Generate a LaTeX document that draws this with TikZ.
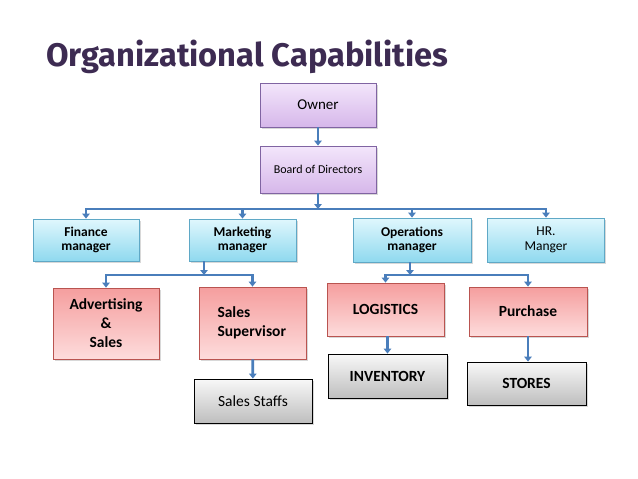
\documentclass[tikz,border=0pt]{standalone}
\usepackage{fontspec}
\setmainfont{Carlito}
\newfontfamily\titlefont{Fira Sans}
\usetikzlibrary{arrows.meta}
\usetikzlibrary{shadows}
\usepackage{xcolor}

\definecolor{titlecol}{HTML}{3D2B52}
\definecolor{arrowcol}{HTML}{4A7EBB}

\tikzset{
  box/.style={draw, line width=0.8pt, inner sep=2pt, align=center,
    drop shadow={shadow xshift=1.5pt, shadow yshift=-1.5pt, opacity=0.3}},
  purplebox/.style={box, draw={rgb,255:red,128;green,100;blue,162},
    top color={rgb,255:red,243;green,230;blue,251}, bottom color={rgb,255:red,214;green,183;blue,234}},
  bluebox/.style={box, draw={rgb,255:red,95;green,168;blue,198},
    top color={rgb,255:red,224;green,247;blue,253}, bottom color={rgb,255:red,143;green,217;blue,239}},
  pinkbox/.style={box, draw={rgb,255:red,185;green,84;blue,80},
    top color={rgb,255:red,245;green,158;blue,158}, bottom color={rgb,255:red,253;green,220;blue,220}},
  greybox/.style={box, draw=black,
    top color={rgb,255:red,248;green,248;blue,248}, bottom color={rgb,255:red,190;green,190;blue,190}},
  arr/.style={draw=arrowcol, line width=2.7pt, -{Triangle[length=5pt,width=7.5pt]}},
  mgr/.style={font=\fontsize{13.5}{14.7}\selectfont\bfseries},
  low/.style={font=\fontsize{15.5}{19}\selectfont\bfseries}
}

\begin{document}
\begin{tikzpicture}[x=1pt,y=-1pt]
\useasboundingbox[fill=white] (0,0) rectangle (638,479);

\node[anchor=base west, text=titlecol, inner sep=0] (title) at (46,66)
  {\resizebox{402pt}{!}{\titlefont\bfseries Organizational Capabilities}};

\node[purplebox, minimum width=116pt, minimum height=44pt, font=\fontsize{15}{17}\selectfont] (owner) at (318,105) {Owner};
\node[purplebox, minimum width=116pt, minimum height=47pt, font=\fontsize{12}{14}\selectfont] (board) at (318,169.5) {Board of Directors};

\node[bluebox, mgr, minimum width=106pt, minimum height=42pt] (finance) at (86,240) {Finance\\manager};
\node[bluebox, mgr, minimum width=107pt, minimum height=42pt] (marketing) at (242.5,240) {Marketing\\manager};
\node[bluebox, mgr, minimum width=118pt, minimum height=44pt] (operations) at (412,240) {Operations\\manager};
\node[bluebox, minimum width=117pt, minimum height=44pt, font=\fontsize{13.5}{14.7}\selectfont] (hr) at (546,240) {HR.\\Manger};

\node[pinkbox, low, minimum width=106pt, minimum height=71pt] (advert) at (106,323.5) {Advertising\\\&\\Sales};
\node[pinkbox, low, minimum width=107pt, minimum height=72pt, align=left, text width=70pt, inner xsep=18.5pt] (supervisor) at (252.5,323) {Sales\\Supervisor};
\node[greybox, minimum width=118pt, minimum height=44pt, font=\fontsize{15.5}{19}\selectfont] (staffs) at (253,401) {Sales Staffs};

\node[pinkbox, low, minimum width=117pt, minimum height=53pt] (logistics) at (385.5,309.5) {LOGISTICS};
\node[pinkbox, low, minimum width=118pt, minimum height=49pt] (purchase) at (528,311.5) {Purchase};
\node[greybox, low, minimum width=119pt, minimum height=44pt] (inventory) at (387.5,376) {INVENTORY};
\node[greybox, low, minimum width=119pt, minimum height=43pt] (stores) at (526.5,383.5) {STORES};

\coordinate (top) at (318,209);
\coordinate (mk) at (204,275);
\coordinate (op) at (410,275);

\draw[arr] (owner) -- (board);
\draw[arr] (board) -- (top);
\draw[arr] (top) -| (finance);
\draw[arr] (top) -| (marketing);
\draw[arr] (top) -| (operations);
\draw[arr] (top) -| (hr);

\draw[arr] (mk |- marketing.south) -- (mk);
\draw[arr] (mk) -| (advert);
\draw[arr] (mk) -| (supervisor);
\draw[arr] (supervisor) -- (staffs);

\draw[arr] (op |- operations.south) -- (op);
\draw[arr] (op) -| (logistics);
\draw[arr] (op) -| (purchase);
\draw[arr] (logistics.south -| inventory) -- (inventory);
\draw[arr] (purchase) -- (purchase |- stores.north);

\end{tikzpicture}
\end{document}
